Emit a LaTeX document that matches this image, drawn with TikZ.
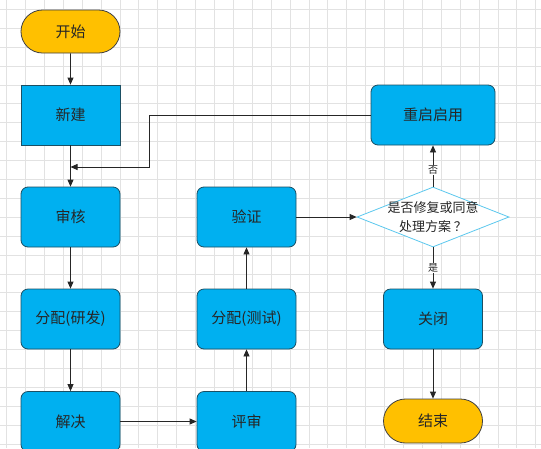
\documentclass[tikz,border=0pt]{standalone}
\usepackage{fontspec}
\newfontfamily\cjk{Noto Sans CJK SC}
\usetikzlibrary{arrows.meta,shapes.geometric,shapes.misc}
\definecolor{boxblue}{HTML}{00B0F0}
\definecolor{boxedge}{HTML}{1B4F63}
\definecolor{termyel}{HTML}{FFC000}
\definecolor{diaedge}{HTML}{5BC8EE}
\definecolor{gridc}{HTML}{E2E2E2}
\begin{document}
\begin{tikzpicture}[x=1pt,y=-1pt,
  proc/.style={rectangle, rounded corners=7pt, fill=boxblue, draw=boxedge, line width=0.8pt,
    minimum width=99pt, minimum height=60pt, inner sep=0pt,
    font=\cjk\fontsize{15}{18}\selectfont, text=black!85},
  term/.style={rounded rectangle, fill=termyel, draw=black!75, line width=0.8pt,
    minimum width=99pt, minimum height=43pt, inner sep=0pt,
    font=\cjk\fontsize{15}{18}\selectfont, text=black!85},
  dia/.style={diamond, fill=white, draw=diaedge, line width=0.8pt,
    minimum width=152pt, minimum height=60pt, inner sep=0pt},
  arr/.style={draw=black!85, line width=0.8pt, -{Triangle[width=6pt,length=7pt]}},
  lab/.style={fill=white, inner sep=1pt, font=\cjk\fontsize{10}{12}\selectfont, text=black!85}
]
\useasboundingbox (0,0) rectangle (541,448);
\fill[white] (0,0) rectangle (541,448);
% grid
\foreach \k in {0,...,28} {
  \draw[gridc, line width=0.8pt] ({6.5+18.9*\k},0) -- ({6.5+18.9*\k},448);
}
\foreach \k in {0,...,23} {
  \draw[gridc, line width=0.8pt] (0,{9.3+18.9*\k}) -- (541,{9.3+18.9*\k});
}
% nodes
\node[term] (start) at (70.5,31.5) {开始};
\node[proc, sharp corners] (new) at (70.5,115) {新建};
\node[proc] (audit) at (70.5,217) {审核};
\node[proc] (assignD) at (70.5,319) {分配(研发)};
\node[proc] (solve) at (70.5,421.5) {解决};
\node[proc] (review) at (246.5,421.5) {评审};
\node[proc] (assignT) at (246.5,319) {分配(测试)};
\node[proc] (verify) at (246.5,217) {验证};
\node[dia, label={[font=\cjk\fontsize{13}{19}\selectfont, text=black!85, align=center]center:是否修复或同意\\处理方案\hspace{3pt}？}] (dec) at (433,217) {};
\node[proc, minimum width=124pt] (restart) at (433,115) {重启启用};
\node[proc] (close) at (433,319) {关闭};
\node[term, minimum height=44pt] (end) at (433,421) {结束};
\coordinate (bend) at (149,167);
\coordinate (join) at (70.5,167);
% connectors
\draw[arr] (start) -- (new);
\draw[arr] (new) -- (audit);
\draw[arr] (restart.west) -| (bend) -- (join);
\draw[arr] (audit) -- (assignD);
\draw[arr] (assignD) -- (solve);
\draw[arr] (solve) -- (review);
\draw[arr] (review) -- (assignT);
\draw[arr] (assignT) -- (verify);
\draw[arr] (verify) -- (dec);
\draw[arr] (dec) -- node[lab, pos=0.4] {否} (restart);
\draw[arr] (dec) -- node[lab, pos=0.5] {是} (close);
\draw[arr] (close) -- (end);
\end{tikzpicture}
\end{document}
